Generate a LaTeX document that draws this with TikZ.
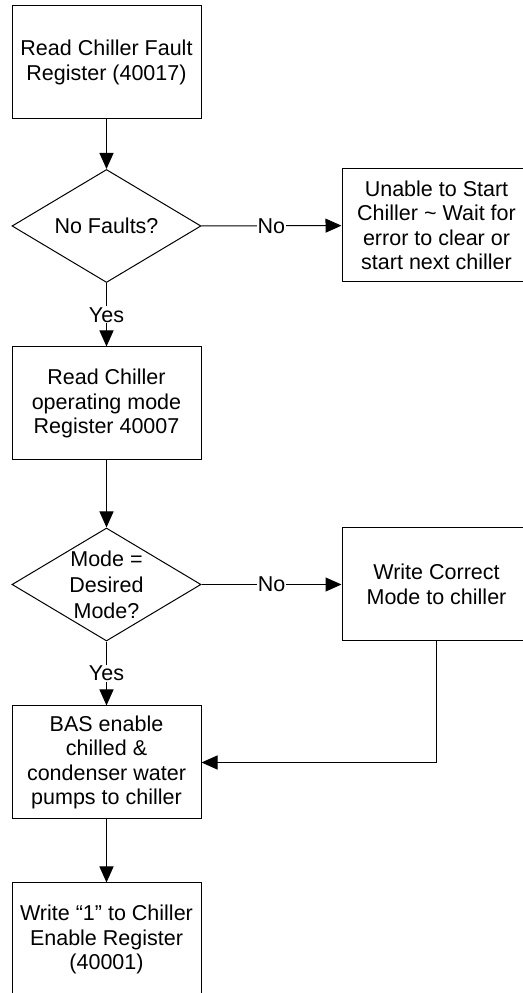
\documentclass[tikz,border=0pt]{standalone}
\usepackage{fontspec}
\setmainfont{Liberation Sans}
\usetikzlibrary{shapes.geometric,arrows.meta}

\begin{document}
\begin{tikzpicture}[x=1pt,y=1pt,
    box/.style={draw,line width=1pt,minimum width=189pt,minimum height=113pt,
      inner sep=0pt,align=center,font=\fontsize{21.5}{24.5}\selectfont},
    decision/.style={draw,diamond,line width=1pt,minimum width=189pt,
      minimum height=113pt,inner sep=0pt},
    flow/.style={line width=1pt,-{Triangle[length=16pt,width=14pt]}},
    answer/.style={fill=white,inner sep=1pt,font=\fontsize{21.5}{24.5}\selectfont}]
        \useasboundingbox (0,0) rectangle (522,993);

        % main column
        \node[box] (fault) at (106.5,930.5) {Read Chiller Fault\\Register (40017)};
        \node[decision] (nofault) at (106.5,767) {};
        \node[align=center,font=\fontsize{21.5}{24.5}\selectfont] (nofaulttxt) at (nofault) {No Faults?};
        \node[box] (readmode) at (106.5,589.5) {Read Chiller\\operating mode\\Register 40007};
        \node[decision] (modeok) at (106.5,408.5) {};
        \node[align=center,font=\fontsize{21.5}{26}\selectfont] (modeoktxt) at (modeok) {Mode =\\Desired\\Mode?};
        \node[box] (pumps) at (106.5,230.5) {BAS enable\\chilled \&\\condenser water\\pumps to chiller};
        \node[box] (enable) at (106.5,53.5) {Write “1” to Chiller\\Enable Register\\(40001)};

        % right column
        \node[box] (unable) at (436.5,767.5) {Unable to Start\\Chiller \textasciitilde{} Wait for\\error to clear or\\start next chiller};
        \node[box] (correct) at (436.5,408.5) {Write Correct\\Mode to chiller};

        % connectors
        \draw[flow] (fault) -- (nofault);
        \draw[flow] (nofault) -- node[answer] {Yes} (readmode);
        \draw[flow] (nofault) -- node[answer] {No} (unable);
        \draw[flow] (readmode) -- (modeok);
        \draw[flow] (modeok) -- node[answer] {Yes} (pumps);
        \draw[flow] (modeok) -- node[answer] {No} (correct);
        \draw[flow] (correct.south) |- (pumps.east);
        \draw[flow] (pumps) -- (enable);
\end{tikzpicture}
\end{document}
